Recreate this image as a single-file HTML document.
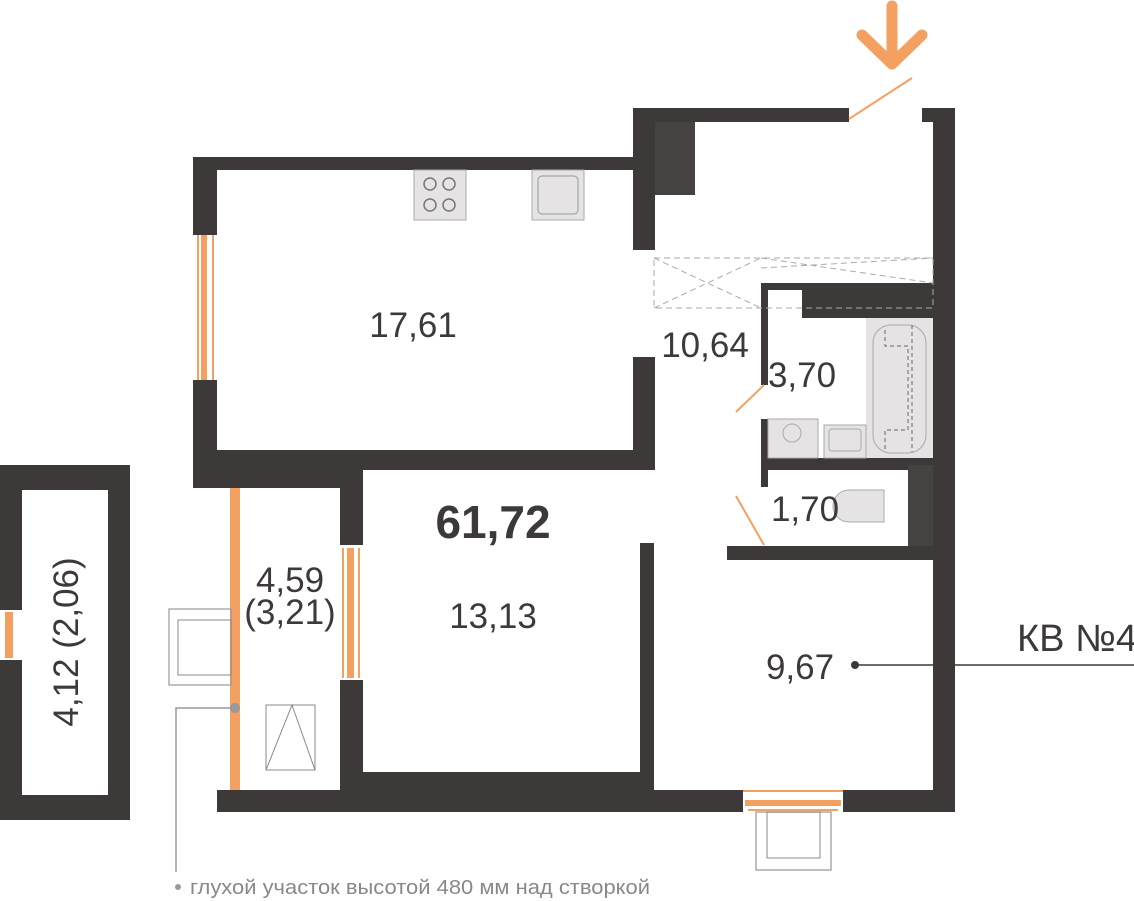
<!DOCTYPE html>
<html><head><meta charset="utf-8"><style>
html,body{margin:0;padding:0;background:#fff;}
svg{display:block;}
text{font-family:"Liberation Sans","DejaVu Sans",sans-serif;fill:#3d3938;}
</style></head><body>
<svg width="1134" height="901" viewBox="0 0 1134 901" xmlns="http://www.w3.org/2000/svg">
<g fill="#3d3938">
<rect x="193" y="157" width="443" height="13"/>
<rect x="193" y="157" width="24" height="78"/>
<rect x="193" y="380" width="24" height="108"/>
<rect x="193" y="450" width="447" height="13"/>
<rect x="193" y="450" width="147" height="38"/>
<rect x="633" y="108" width="216" height="14"/>
<rect x="633" y="108" width="22" height="142"/>
<rect x="922" y="108" width="33" height="14"/>
<rect x="933" y="108" width="22" height="704"/>
<rect x="633" y="357" width="22" height="113"/>
<rect x="761" y="283" width="7" height="102"/>
<rect x="761" y="283" width="172" height="7"/>
<rect x="802" y="283" width="131" height="35"/>
<rect x="761" y="419" width="7" height="68"/>
<rect x="761" y="458" width="172" height="12"/>
<rect x="727" y="546" width="206" height="14"/>
<rect x="340" y="462" width="300" height="8"/>
<rect x="340" y="462" width="23" height="83"/>
<rect x="340" y="680" width="23" height="110"/>
<rect x="640" y="543" width="14" height="247"/>
<rect x="217" y="790" width="526" height="22"/>
<rect x="843" y="790" width="112" height="22"/>
<rect x="363" y="772" width="277" height="18"/>
<rect x="0" y="465" width="130" height="25"/>
<rect x="0" y="795" width="130" height="25"/>
<rect x="0" y="465" width="22" height="145"/>
<rect x="0" y="660" width="22" height="160"/>
<rect x="108" y="465" width="22" height="355"/>
</g>
<rect x="655" y="122" width="40" height="73" fill="#464241"/>
<rect x="908" y="465" width="25" height="81" fill="#464241"/>
<rect x="201" y="235" width="6" height="145" fill="#f4a060"/>
<rect x="197" y="235" width="2" height="145" fill="#f4a060"/>
<rect x="212" y="235" width="2" height="145" fill="#f4a060"/>
<rect x="347" y="548" width="7" height="130" fill="#f4a060"/>
<rect x="342" y="548" width="2" height="130" fill="#f4a060"/>
<rect x="358" y="548" width="2" height="130" fill="#f4a060"/>
<rect x="745" y="800" width="96" height="6" fill="#f4a060"/>
<rect x="743" y="790" width="100" height="2" fill="#f4a060"/>
<rect x="748" y="809" width="90" height="2" fill="#f4a060"/>
<rect x="5" y="612" width="8" height="46" fill="#f4a060"/>
<rect x="230" y="488" width="10" height="302" fill="#f4a060"/>
<rect x="756" y="812" width="75" height="58" fill="none" stroke="#aaa" stroke-width="1.5"/>
<rect x="767" y="812" width="53" height="46" fill="none" stroke="#888" stroke-width="1"/>
<rect x="169" y="609" width="62" height="76" fill="none" stroke="#999" stroke-width="1.2"/>
<rect x="178" y="620" width="53" height="55" fill="none" stroke="#888" stroke-width="1"/>
<rect x="266" y="705" width="49" height="65" fill="none" stroke="#888" stroke-width="1"/>
<path d="M266 770 L292 705 L315 770" fill="none" stroke="#888" stroke-width="1"/>
<path d="M235 708 H176 V872" fill="none" stroke="#999" stroke-width="1.5"/>
<circle cx="235" cy="708" r="5" fill="#999"/>
<circle cx="178" cy="887" r="3" fill="#999"/>
<rect x="414" y="170" width="52" height="50" fill="#e5e3e3" stroke="#aaa"/>
<g fill="none" stroke="#777" stroke-width="1.5"><circle cx="430" cy="184" r="6"/><circle cx="449" cy="184" r="6"/><circle cx="430" cy="205" r="6"/><circle cx="449" cy="205" r="6"/></g>
<rect x="532" y="170" width="52" height="50" fill="#e5e3e3" stroke="#aaa"/>
<rect x="538" y="176" width="40" height="38" rx="4" fill="none" stroke="#999"/>
<g fill="none" stroke="#aaa" stroke-width="1" stroke-dasharray="6,4">
<rect x="654" y="258" width="279" height="50"/>
<path d="M654 258 L761 308 M654 308 L761 258 M761 258 L933 283 M761 268 L933 258"/>
</g>
<rect x="866" y="318" width="67" height="140" fill="#e5e3e3"/>
<rect x="873" y="325" width="53" height="128" rx="18" fill="none" stroke="#aaa"/>
<g fill="none" stroke="#666" stroke-dasharray="4,3"><path d="M885 330 V346 H908 V430 H885 V452 M912 325 V452"/></g>
<rect x="768" y="419" width="50" height="39" fill="#e5e3e3" stroke="#aaa"/>
<circle cx="792" cy="433" r="9" fill="none" stroke="#aaa"/>
<rect x="824" y="425" width="42" height="33" fill="#e5e3e3" stroke="#aaa"/>
<rect x="829" y="429" width="32" height="22" rx="3" fill="none" stroke="#aaa"/>
<path d="M849 490 h35 v32 h-35 a16 16 0 0 1 0 -32 z" fill="#e5e3e3" stroke="#aaa"/>
<g stroke="#f4a060" stroke-width="2" fill="none">
<path d="M849 119 L912 78"/>
<path d="M764 385 L736 412"/>
<path d="M736 496 L764 545"/>
</g>
<g stroke="#f4a060" stroke-width="11" stroke-linecap="round" stroke-linejoin="round" fill="none">
<path d="M892 6 V64 M862 35 L892 64 L922 35"/>
</g>
<path d="M855 665 H1134" stroke="#3d3938" stroke-width="1.5"/>
<circle cx="855" cy="665" r="4" fill="#3d3938"/>
<g font-size="35" text-anchor="middle">
<text x="413" y="337">17,61</text>
<text x="705" y="357">10,64</text>
<text x="802" y="387">3,70</text>
<text x="805" y="521">1,70</text>
<text x="493" y="628">13,13</text>
<text x="290" y="592">4,59</text>
<text x="290" y="624">(3,21)</text>
<text x="800" y="679">9,67</text>
<text x="1077" y="651" font-size="38">КВ №4</text>
<text x="493" y="538" font-size="46" font-weight="bold">61,72</text>
<text transform="translate(78,642) rotate(-90)" font-size="35">4,12 (2,06)</text>
</g>
<text x="190" y="894" font-size="20" textLength="460" lengthAdjust="spacingAndGlyphs" style="fill:#888">глухой участок высотой 480 мм над створкой</text>
</svg>
</body></html>
